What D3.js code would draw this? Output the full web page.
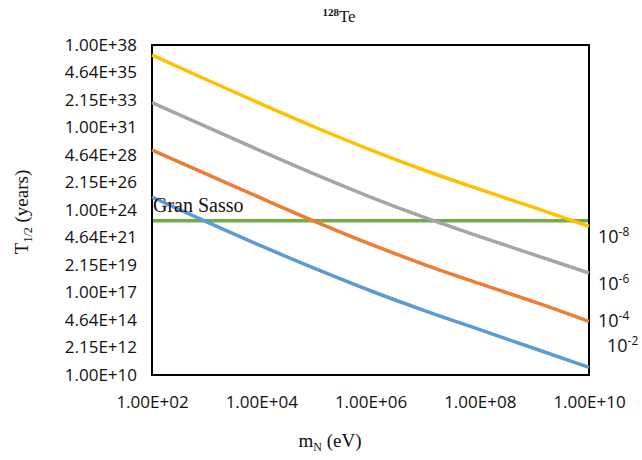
<!DOCTYPE html>
<html>
<head>
<meta charset="utf-8">
<script src="https://cdn.jsdelivr.net/npm/d3@7"></script>
<style>
  body { margin: 0; background: #fff; }
  svg { display: block; }
</style>
</head>
<body>
<svg id="chart" width="642" height="460"></svg>
<script>
// masses (eV), one point per decade
const masses = [1e2, 1e3, 1e4, 1e5, 1e6, 1e7, 1e8, 1e9, 1e10];

// half-life (years) for each mixing |U|^2
const halfLife_1e8 = [1.41e37, 1.12e35, 1.0e33, 1.0e31, 1.26e29, 2.24e27, 5.6e25, 1.58e24, 4.2e22];
const halfLife_1e6 = [1.3e33, 1.12e31, 1.0e29, 1.0e27, 1.26e25, 2.24e23, 5.6e21, 1.58e20, 4.5e18];
const halfLife_1e4 = [1.23e29, 1.1e27, 1.0e25, 1.0e23, 1.26e21, 2.24e19, 5.6e17, 1.58e16, 3.5e14];
const halfLife_1e2 = [1.26e25, 1.0e23, 8.9e20, 1.0e19, 1.41e17, 2.8e15, 7.1e13, 1.78e12, 4.5e10];

// experimental limit
const granSasso = 1.2e23;

const yTicks = [1e10, 2.15e12, 4.64e14, 1e17, 2.15e19, 4.64e21, 1e24, 2.15e26, 4.64e28, 1e31, 2.15e33, 4.64e35, 1e38];
const xTicks = [1e2, 1e4, 1e6, 1e8, 1e10];

const series = [
    { name: "1e-2", exp: "-2", values: halfLife_1e2, color: "#5B9BD5" },
    { name: "1e-4", exp: "-4", values: halfLife_1e4, color: "#ED7D31" },
    { name: "1e-6", exp: "-6", values: halfLife_1e6, color: "#A5A5A5" },
    { name: "1e-8", exp: "-8", values: halfLife_1e8, color: "#FFC000" },
];

// label placement (left x, baseline y) on the right side
const labelPos = { "1e-8": [598, 243], "1e-6": [598, 290], "1e-4": [598, 327], "1e-2": [607, 352] };

const margin = { top: 45, right: 53, bottom: 85, left: 152 };
const width = 642 - margin.left - margin.right;
const height = 460 - margin.top - margin.bottom;

const svg = d3.select("#chart");
const g = svg.append("g").attr("transform", `translate(${margin.left},${margin.top})`);

const x = d3.scaleLog().domain([1e2, 1e10]).range([0, width]);
const y = d3.scaleLog().domain([1e10, 1e38]).range([height, 0]);

function sci(v) {
    const e = Math.round(Math.log10(v) * 1000) / 1000;
    const ex = Math.floor(e + 1e-9);
    const m = v / Math.pow(10, ex);
    return m.toFixed(2) + "E+" + String(ex).padStart(2, "0");
}

// axes (labels only)
const yAxis = g.append("g")
    .call(d3.axisLeft(y).tickValues(yTicks).tickFormat(sci).tickSize(0).tickPadding(15));
yAxis.select(".domain").remove();
yAxis.selectAll("text")
    .attr("font-family", "Open Sans, sans-serif")
    .attr("font-size", 17)
    .attr("fill", "#111");

const xAxis = g.append("g")
    .attr("transform", `translate(0,${height})`)
    .call(d3.axisBottom(x).tickValues(xTicks).tickFormat(sci).tickSize(0).tickPadding(21));
xAxis.select(".domain").remove();
xAxis.selectAll("text")
    .attr("font-family", "Open Sans, sans-serif")
    .attr("font-size", 17)
    .attr("fill", "#111");

// frame
g.append("rect")
    .attr("width", width)
    .attr("height", height)
    .attr("fill", "none")
    .attr("stroke", "#000")
    .attr("stroke-width", 2);

const line = d3.line()
    .x((d, i) => x(masses[i]))
    .y(d => y(d))
    .curve(d3.curveMonotoneX);

// Gran Sasso limit
g.append("line")
    .attr("x1", x(1e2) + 1)
    .attr("x2", x(1e10) - 1)
    .attr("y1", y(granSasso))
    .attr("y2", y(granSasso))
    .attr("stroke", "#70AD47")
    .attr("stroke-width", 3.5);

g.selectAll(".curve")
    .data(series)
    .join("path")
    .attr("class", "curve")
    .attr("d", d => line(d.values))
    .attr("fill", "none")
    .attr("stroke", d => d.color)
    .attr("stroke-width", 3.5);

g.append("text")
    .attr("x", 1)
    .attr("y", y(granSasso) - 9)
    .attr("font-family", "Liberation Serif, serif")
    .attr("font-size", 20)
    .attr("fill", "#111")
    .text("Gran Sasso");

// right-hand labels
series.forEach(s => {
    const p = labelPos[s.name];
    const t = svg.append("text")
        .attr("x", p[0])
        .attr("y", p[1])
        .attr("font-family", "Open Sans, sans-serif")
        .attr("font-size", 18)
        .attr("fill", "#111");
    t.append("tspan").text("10");
    t.append("tspan").attr("dy", -7).attr("font-size", 12).text(s.exp);
});

// title
const title = svg.append("text")
    .attr("x", 339)
    .attr("y", 22)
    .attr("text-anchor", "middle")
    .attr("font-family", "Liberation Serif, serif")
    .attr("fill", "#111");
title.append("tspan").attr("font-size", 11).attr("font-weight", "bold").attr("dy", -6).text("128");
title.append("tspan").attr("font-size", 17).attr("dy", 6).text("Te");

// y title
const yt = svg.append("text")
    .attr("transform", "translate(28,212) rotate(-90)")
    .attr("text-anchor", "middle")
    .attr("font-family", "Liberation Serif, serif")
    .attr("font-size", 19)
    .attr("fill", "#111");
yt.append("tspan").text("T");
yt.append("tspan").attr("font-size", 12).attr("dy", 4).text("1/2");
yt.append("tspan").attr("dy", -4).text(" (years)");

// x title
const xt = svg.append("text")
    .attr("x", 330)
    .attr("y", 447)
    .attr("text-anchor", "middle")
    .attr("font-family", "Liberation Serif, serif")
    .attr("font-size", 19)
    .attr("fill", "#111");
xt.append("tspan").text("m");
xt.append("tspan").attr("font-size", 12).attr("dy", 4).text("N");
xt.append("tspan").attr("dy", -4).text(" (eV)");
</script>
</body>
</html>
